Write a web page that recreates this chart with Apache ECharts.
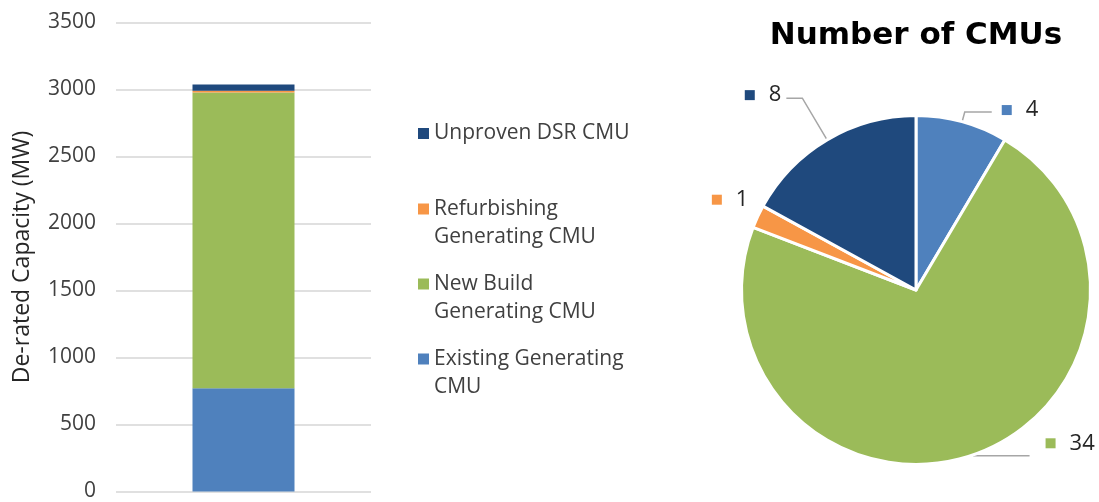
<!DOCTYPE html>
<html>
<head>
<meta charset="utf-8">
<script src="https://cdn.jsdelivr.net/npm/echarts@6/dist/echarts.min.js"></script>
<style>
  html, body { margin: 0; padding: 0; background: #fff; }
  #chart { width: 1099px; height: 502px; }
</style>
</head>
<body>
<div id="chart"></div>
<script>
// CMU types, in stacking / pie order (bottom of bar = first)
const cmuTypes = ['Existing Generating CMU', 'New Build Generating CMU', 'Refurbishing Generating CMU', 'Unproven DSR CMU'];
const legendLabels = ['Existing Generating\nCMU', 'New Build\nGenerating CMU', 'Refurbishing\nGenerating CMU', 'Unproven DSR CMU'];
// de-rated capacity (MW) per type
const capacityMW = [770, 2208, 12, 47];
// number of CMUs per type
const cmuCounts = [4, 34, 1, 8];
const yTicks = { min: 0, max: 3500, interval: 500 };
const colors = ['#4F81BD', '#9BBB59', '#F79646', '#1F497D'];

const chart = echarts.init(document.getElementById('chart'));

// bar series, one per type, stacked
const barSeries = cmuTypes.map((name, i) => ({
  name,
  type: 'bar',
  stack: 'cap',
  barWidth: 102,
  data: [capacityMW[i]],
  itemStyle: { color: colors[i] }
}));

// legend: one block per item, top to bottom = reverse stack order.
// two-line items get a taller icon box whose visible square sits at the top,
// so the square lines up with the first text line
const lineH = 28;
const legendIconTops = [128, 203.5, 278.5, 353.5];
const legends = cmuTypes.slice().reverse().map((name, k) => {
  const idx = cmuTypes.indexOf(name);
  const twoLines = legendLabels[idx].indexOf('\n') >= 0;
  return {
    data: [name],
    orient: 'vertical',
    left: 418,
    top: legendIconTops[k] - 8.5,
    padding: 0,
    icon: twoLines ? 'path://M0,0h11v11h-11z M0,' + (11 + lineH) : 'rect',
    itemWidth: 11,
    itemHeight: twoLines ? 11 + lineH : 11,
    selectedMode: false,
    formatter: () => legendLabels[idx],
    textStyle: {
      fontFamily: 'Open Sans',
      fontSize: 21,
      lineHeight: lineH,
      color: '#404040'
    }
  };
});

// pie label placement tweaks (same order as pie data)
const pieLabelTweaks = [
  { length: 10, length2: 27, show: true, padding: [0, 0, 4, 5] },
  { length: 1, length2: 56, show: true, padding: [0, 0, 25, 11] },
  { length: 40, length2: -32, show: false, padding: 0 },
  { length: 48.5, length2: 16, show: true, padding: [0, 0, 6, 0] }
];

const pieRich = { g: { width: 14 }, v: { fontFamily: 'Open Sans', fontSize: 22, color: '#262626' } };
colors.forEach((c, i) => { pieRich['s' + i] = { width: 10, height: 10, backgroundColor: c }; });

const pieData = cmuTypes.map((name, i) => ({
  name,
  value: cmuCounts[i],
  itemStyle: { color: colors[i] },
  label: { padding: pieLabelTweaks[i].padding },
  labelLine: {
    show: pieLabelTweaks[i].show,
    length: pieLabelTweaks[i].length,
    length2: pieLabelTweaks[i].length2
  }
}));

const option = {
  backgroundColor: '#fff',
  animation: false,
  title: {
    text: 'Number of CMUs',
    left: 916,
    top: 20,
    padding: 0,
    textAlign: 'center',
    textStyle: { fontFamily: 'DejaVu Sans', fontWeight: 'bold', fontSize: 31, color: '#000' }
  },
  legend: legends,
  grid: { left: 116, right: 728, top: 22.5, bottom: 6.5 },
  xAxis: {
    type: 'category',
    data: [''],
    axisLine: { show: false },
    axisTick: { show: false },
    axisLabel: { show: false }
  },
  yAxis: {
    type: 'value',
    min: yTicks.min,
    max: yTicks.max,
    interval: yTicks.interval,
    name: 'De-rated Capacity (MW)',
    nameLocation: 'middle',
    nameGap: 82,
    nameTextStyle: { fontFamily: 'Open Sans', fontSize: 23, color: '#262626' },
    axisLine: { show: false },
    axisTick: { show: false },
    axisLabel: {
      fontFamily: 'Open Sans', fontSize: 21, color: '#404040', margin: 20,
      formatter: v => String(v)
    },
    splitLine: { lineStyle: { color: '#d6d6d6', width: 1.5 } }
  },
  series: barSeries.concat([{
    name: 'Number of CMUs',
    type: 'pie',
    center: [916, 290],
    radius: 174.5,
    startAngle: 90,
    clockwise: true,
    avoidLabelOverlap: false,
    itemStyle: { borderColor: '#fff', borderWidth: 3 },
    label: {
      show: true,
      position: 'outside',
      formatter: p => `{s${p.dataIndex}|}{g|}{v|${p.value}}`,
      rich: pieRich
    },
    labelLine: { lineStyle: { color: '#a6a6a6', width: 1.5 } },
    emphasis: { disabled: true },
    data: pieData
  }])
};

chart.setOption(option);
</script>
</body>
</html>
